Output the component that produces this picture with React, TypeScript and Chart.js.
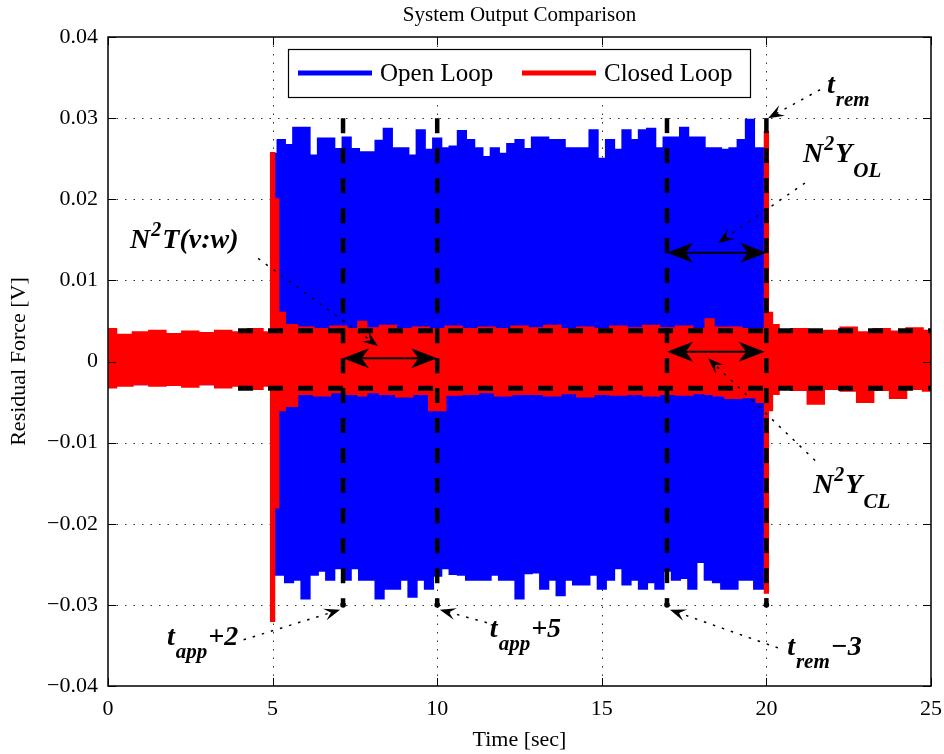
import React, { useEffect, useRef } from 'react';
import { Chart, registerables } from 'chart.js';
Chart.register(...registerables);

const FONT = '"Liberation Serif", "Times New Roman", serif';

// ---- Axis ticks ----
const xTicks = [0, 5, 10, 15, 20, 25];
const xTickLabels = ['0', '5', '10', '15', '20', '25'];
const yTicks = [-0.04, -0.03, -0.02, -0.01, 0, 0.01, 0.02, 0.03, 0.04];
const yTickLabels = ['\u22120.04', '\u22120.03', '\u22120.02', '\u22120.01', '0', '0.01', '0.02', '0.03', '0.04'];

// ---- Open loop (blue) signal envelope ----
const openTime = [0, 2.5, 4.95, 5.05, 5.25, 5.5, 5.75, 6, 6.25, 6.5, 6.75, 7, 7.25, 7.5, 7.75, 8, 8.25, 8.5, 8.75, 9, 9.25, 9.5, 9.75, 10, 10.25, 10.5, 10.75, 11, 11.25, 11.5, 11.75, 12, 12.25, 12.5, 12.75, 13, 13.25, 13.5, 13.75, 14, 14.25, 14.5, 14.75, 15, 15.25, 15.5, 15.75, 16, 16.25, 16.5, 16.75, 17, 17.25, 17.5, 17.75, 18, 18.25, 18.5, 18.75, 19, 19.25, 19.5, 19.75, 19.95, 20.05, 22.5, 25];
const openUpper = [0.0031, 0.0031, 0.0031, 0.0256, 0.0273, 0.0267, 0.0288, 0.0288, 0.0254, 0.0275, 0.0275, 0.0262, 0.0276, 0.0262, 0.0258, 0.0258, 0.0272, 0.0287, 0.0263, 0.0263, 0.0254, 0.0285, 0.0261, 0.0275, 0.0263, 0.0265, 0.0284, 0.0273, 0.0263, 0.0252, 0.0263, 0.0256, 0.0268, 0.0273, 0.0262, 0.0276, 0.0276, 0.0273, 0.0273, 0.0263, 0.0263, 0.0263, 0.0285, 0.0250, 0.0273, 0.0261, 0.0285, 0.0273, 0.0285, 0.0287, 0.0263, 0.0276, 0.0276, 0.0288, 0.0276, 0.0276, 0.0263, 0.0263, 0.0261, 0.0263, 0.0273, 0.0298, 0.0263, 0.0263, 0.0031, 0.0031, 0.0031];
const openLower = [-0.0028, -0.0028, -0.0028, -0.0263, -0.0263, -0.0272, -0.0269, -0.0292, -0.0263, -0.0258, -0.0269, -0.0255, -0.0269, -0.0255, -0.0269, -0.0269, -0.0292, -0.0280, -0.0280, -0.0269, -0.0290, -0.0269, -0.0280, -0.0264, -0.0255, -0.0262, -0.0263, -0.0269, -0.0269, -0.0269, -0.0263, -0.0269, -0.0269, -0.0292, -0.0261, -0.0260, -0.0280, -0.0269, -0.0288, -0.0269, -0.0275, -0.0275, -0.0263, -0.0280, -0.0269, -0.0255, -0.0275, -0.0269, -0.0280, -0.0272, -0.0280, -0.0258, -0.0269, -0.0267, -0.0280, -0.0247, -0.0269, -0.0272, -0.0280, -0.0280, -0.0269, -0.0269, -0.0280, -0.0280, -0.0028, -0.0028, -0.0028];

// ---- Closed loop (red) signal envelope ----
const closedTime = [0, 0.5, 1, 1.5, 2, 2.5, 3, 3.5, 4, 4.5, 4.9, 5.0, 5.1, 5.25, 5.5, 6, 6.5, 7, 7.5, 7.7, 8, 8.5, 9, 9.5, 10, 10.5, 11, 11.5, 12, 12.5, 13, 13.5, 14, 14.5, 15, 15.5, 16, 16.5, 17, 17.5, 18, 18.3, 18.5, 19, 19.5, 19.9, 20.0, 20.1, 20.25, 20.5, 21, 21.5, 22, 22.5, 23, 23.5, 24, 24.5, 25];
const closedUpper = [0.0040, 0.0033, 0.0036, 0.0038, 0.0034, 0.0037, 0.0035, 0.0038, 0.0036, 0.0040, 0.0036, 0.0257, 0.0200, 0.0060, 0.0045, 0.0042, 0.0040, 0.0043, 0.0040, 0.0049, 0.0041, 0.0044, 0.0040, 0.0042, 0.0040, 0.0043, 0.0040, 0.0042, 0.0040, 0.0043, 0.0041, 0.0044, 0.0040, 0.0042, 0.0040, 0.0043, 0.0041, 0.0044, 0.0041, 0.0043, 0.0040, 0.0052, 0.0042, 0.0042, 0.0040, 0.0040, 0.0283, 0.0060, 0.0045, 0.0036, 0.0040, 0.0035, 0.0038, 0.0042, 0.0036, 0.0040, 0.0037, 0.0041, 0.0038];
const closedLower = [-0.0032, -0.0030, -0.0028, -0.0030, -0.0029, -0.0031, -0.0028, -0.0032, -0.0030, -0.0034, -0.0030, -0.0320, -0.0180, -0.0060, -0.0055, -0.0040, -0.0042, -0.0038, -0.0040, -0.0042, -0.0038, -0.0040, -0.0043, -0.0040, -0.0060, -0.0041, -0.0040, -0.0038, -0.0042, -0.0040, -0.0040, -0.0042, -0.0039, -0.0043, -0.0040, -0.0041, -0.0040, -0.0042, -0.0040, -0.0041, -0.0039, -0.0040, -0.0042, -0.0045, -0.0044, -0.0050, -0.0285, -0.0060, -0.0040, -0.0034, -0.0035, -0.0052, -0.0034, -0.0036, -0.0050, -0.0035, -0.0045, -0.0034, -0.0036];

// ---- Annotation geometry (data units) ----
const markerTimes = [7.14, 10, 16.98, 20];
const markerSpan = [-0.03, 0.03];
const bandLevels = [0.0038, -0.0033];
const bandSpan = [3.95, 25];
const doubleArrowX1 = [7.14, 16.98, 16.98];
const doubleArrowX2 = [10, 20, 19.95];
const doubleArrowY = [0.0004, 0.0134, 0.0012];

const BIG = 28;
const SMALL = 21;
type Part = { text: string; size: number; dy?: number };
const sub = (text: string): Part => ({ text, size: SMALL, dy: 13 });
const sup = (text: string): Part => ({ text, size: SMALL - 1, dy: -12 });
const big = (text: string): Part => ({ text, size: BIG });

const noteParts: Part[][] = [
  [big('t'), sub('rem')],
  [big('N'), sup('2'), big('Y'), { text: 'OL', size: SMALL, dy: 15 }],
  [big('N'), sup('2'), big('T(v:w)')],
  [big('N'), sup('2'), big('Y'), { text: 'CL', size: SMALL, dy: 15 }],
  [big('t'), sub('app'), big('+2')],
  [big('t'), sub('app'), big('+5')],
  [big('t'), sub('rem'), big('\u22123')],
];
const noteTextAt = [[21.84, 0.0331], [21.11, 0.0246], [0.67, 0.0140], [21.42, -0.0162], [1.79, -0.0349], [11.6, -0.034], [20.63, -0.0362]];
const noteLineFrom = [[21.63, 0.0335], [21.17, 0.0220], [4.56, 0.0127], [21.48, -0.0122], [4.12, -0.0343], [11.51, -0.0322], [20.35, -0.0353]];
const noteLineTo = [[20.05, 0.0300], [18.53, 0.0146], [8.2, 0.0019], [18.23, 0.0004], [7.05, -0.0306], [10.08, -0.0306], [17.07, -0.0306]];

const legendNames = ['Open Loop', 'Closed Loop'];
const legendColors = ['#0000ff', '#ff0000'];

const pts = (ts: number[], vs: number[]) => ts.map((t, i) => ({ x: t, y: vs[i] }));

function drawRich(ctx: CanvasRenderingContext2D, x: number, y: number, parts: Part[]) {
  let cx = x;
  ctx.textAlign = 'left';
  ctx.textBaseline = 'alphabetic';
  for (const p of parts) {
    ctx.font = `italic bold ${p.size}px ${FONT}`;
    ctx.fillText(p.text, cx, y + (p.dy || 0));
    cx += ctx.measureText(p.text).width + 1;
  }
}

function arrowHead(ctx: CanvasRenderingContext2D, tx: number, ty: number, ang: number, L: number, W: number, notch: number) {
  const c = Math.cos(ang), s = Math.sin(ang);
  const P = (a: number, b: number) => [tx - a * c + b * s, ty - a * s - b * c];
  const p1 = P(L, W), p2 = P(L * notch, 0), p3 = P(L, -W);
  ctx.beginPath();
  ctx.moveTo(tx, ty);
  ctx.lineTo(p1[0], p1[1]);
  ctx.lineTo(p2[0], p2[1]);
  ctx.lineTo(p3[0], p3[1]);
  ctx.closePath();
  ctx.fill();
}

const overlay = {
  id: 'overlay',
  beforeDatasetsDraw(chart: any) {
    const { ctx, chartArea: ca } = chart;
    const xs = chart.scales.x, ys = chart.scales.y;
    ctx.save();
    ctx.strokeStyle = '#333';
    ctx.lineWidth = 1;
    ctx.setLineDash([1.5, 7]);
    xTicks.forEach((v) => {
      const px = Math.round(xs.getPixelForValue(v)) + 0.5;
      if (px <= ca.left + 1 || px >= ca.right - 1) return;
      ctx.beginPath(); ctx.moveTo(px, ca.top); ctx.lineTo(px, ca.bottom); ctx.stroke();
    });
    yTicks.forEach((v) => {
      const py = Math.round(ys.getPixelForValue(v)) + 0.5;
      if (py <= ca.top + 1 || py >= ca.bottom - 1) return;
      ctx.beginPath(); ctx.moveTo(ca.left, py); ctx.lineTo(ca.right, py); ctx.stroke();
    });
    ctx.restore();
  },
  afterDatasetsDraw(chart: any) {
    const { ctx, chartArea: ca } = chart;
    const xs = chart.scales.x, ys = chart.scales.y;
    const X = (v: number) => xs.getPixelForValue(v);
    const Y = (v: number) => ys.getPixelForValue(v);
    ctx.save();
    ctx.fillStyle = '#000';
    ctx.strokeStyle = '#000';

    // dashed horizontal band lines
    ctx.lineWidth = 5;
    ctx.setLineDash([15, 15]);
    bandLevels.forEach((lv) => {
      ctx.beginPath(); ctx.moveTo(X(bandSpan[0]), Y(lv)); ctx.lineTo(X(bandSpan[1]), Y(lv)); ctx.stroke();
    });
    // dashed vertical marker lines
    ctx.lineWidth = 4.5;
    markerTimes.forEach((t) => {
      ctx.beginPath(); ctx.moveTo(X(t), Y(markerSpan[1])); ctx.lineTo(X(t), Y(markerSpan[0])); ctx.stroke();
    });
    ctx.setLineDash([]);
    markerTimes.forEach((t) => {
      ctx.beginPath(); ctx.arc(X(t), Y(markerSpan[0]), 2.8, 0, Math.PI * 2); ctx.fill();
    });

    // double arrows
    ctx.lineWidth = 2;
    doubleArrowY.forEach((yv, i) => {
      const x1 = X(doubleArrowX1[i]), x2 = X(doubleArrowX2[i]), py = Y(yv);
      ctx.beginPath(); ctx.moveTo(x1 + 15, py); ctx.lineTo(x2 - 15, py); ctx.stroke();
      arrowHead(ctx, x1, py, Math.PI, 26, 10, 0.72);
      arrowHead(ctx, x2, py, 0, 26, 10, 0.72);
    });

    // text arrows (dotted)
    noteLineFrom.forEach((f, i) => {
      const to = noteLineTo[i];
      const x1 = X(f[0]), y1 = Y(f[1]), x2 = X(to[0]), y2 = Y(to[1]);
      const ang = Math.atan2(y2 - y1, x2 - x1);
      ctx.lineWidth = 1.5;
      ctx.setLineDash([2.5, 7]);
      ctx.beginPath(); ctx.moveTo(x1, y1); ctx.lineTo(x2 - 8 * Math.cos(ang), y2 - 8 * Math.sin(ang)); ctx.stroke();
      ctx.setLineDash([]);
      arrowHead(ctx, x2, y2, ang, 16, 6, 0.6);
    });

    // annotation texts
    noteParts.forEach((parts, i) => {
      drawRich(ctx, X(noteTextAt[i][0]), Y(noteTextAt[i][1]), parts);
    });

    // axes box and inward ticks
    ctx.setLineDash([]);
    ctx.lineWidth = 1.5;
    ctx.strokeRect(ca.left, ca.top, ca.right - ca.left, ca.bottom - ca.top);
    ctx.lineWidth = 1;
    const tl = 8;
    xTicks.forEach((v) => {
      const px = Math.round(X(v)) + 0.5;
      ctx.beginPath();
      ctx.moveTo(px, ca.bottom); ctx.lineTo(px, ca.bottom - tl);
      ctx.moveTo(px, ca.top); ctx.lineTo(px, ca.top + tl);
      ctx.stroke();
    });
    yTicks.forEach((v) => {
      const py = Math.round(Y(v)) + 0.5;
      ctx.beginPath();
      ctx.moveTo(ca.left, py); ctx.lineTo(ca.left + tl, py);
      ctx.moveTo(ca.right, py); ctx.lineTo(ca.right - tl, py);
      ctx.stroke();
    });

    // legend
    const lx = ca.left + 180, ly = ca.top + 12, lw = 462, lh = 48;
    ctx.fillStyle = '#fff';
    ctx.fillRect(lx, ly, lw, lh);
    ctx.lineWidth = 1.2;
    ctx.strokeStyle = '#000';
    ctx.strokeRect(lx + 0.5, ly + 0.5, lw, lh);
    const itemX = [lx + 10, lx + 234];
    legendNames.forEach((name, i) => {
      const my = ly + lh / 2;
      ctx.strokeStyle = legendColors[i];
      ctx.lineWidth = 5;
      ctx.beginPath(); ctx.moveTo(itemX[i], my); ctx.lineTo(itemX[i] + 74, my); ctx.stroke();
      ctx.fillStyle = '#000';
      ctx.font = `25px ${FONT}`;
      ctx.textAlign = 'left';
      ctx.textBaseline = 'middle';
      ctx.fillText(name, itemX[i] + 82, my + 1);
    });

    // title
    ctx.fillStyle = '#000';
    ctx.font = `21px ${FONT}`;
    ctx.textAlign = 'center';
    ctx.textBaseline = 'middle';
    ctx.fillText('System Output Comparison', (ca.left + ca.right) / 2, 15);
    ctx.restore();
  },
};

export default function App() {
  const ref = useRef<HTMLCanvasElement>(null);
  useEffect(() => {
    const canvas = ref.current!;
    const common = { pointRadius: 0, stepped: 'middle' as const, tension: 0 };
    const chart = new Chart(canvas, {
      type: 'line',
      data: {
        datasets: [
          { label: 'Closed Loop', data: pts(closedTime, closedUpper), borderColor: '#ff0000', backgroundColor: '#ff0000', borderWidth: 2, fill: '+1', order: 0, ...common },
          { label: 'Closed Loop (min)', data: pts(closedTime, closedLower), borderColor: '#ff0000', backgroundColor: '#ff0000', borderWidth: 2, fill: false, order: 0, ...common },
          { label: 'Open Loop', data: pts(openTime, openUpper), borderColor: '#0000ff', backgroundColor: '#0000ff', borderWidth: 2, fill: '+1', order: 1, ...common },
          { label: 'Open Loop (min)', data: pts(openTime, openLower), borderColor: '#0000ff', backgroundColor: '#0000ff', borderWidth: 2, fill: false, order: 1, ...common },
        ],
      },
      options: {
        animation: false,
        responsive: false,
        maintainAspectRatio: false,
        events: [],
        layout: { padding: { top: 37, right: 13, left: 0, bottom: 0 } },
        plugins: {
          legend: { display: false },
          title: { display: false },
          tooltip: { enabled: false },
        },
        scales: {
          x: {
            type: 'linear',
            min: 0,
            max: 25,
            grid: { display: false },
            border: { display: false },
            afterBuildTicks: (s: any) => { s.ticks = xTicks.map((v) => ({ value: v })); },
            afterFit: (s: any) => { s.height = 68; },
            ticks: {
              autoSkip: false,
              maxRotation: 0,
              padding: 2,
              color: '#000',
              font: { family: FONT, size: 22 },
              callback: (v: any) => xTickLabels[xTicks.indexOf(Number(v))],
            },
            title: { display: true, text: 'Time [sec]', color: '#000', font: { family: FONT, size: 22 }, padding: { top: 0, bottom: 1 } },
          },
          y: {
            type: 'linear',
            min: -0.04,
            max: 0.04,
            grid: { display: false },
            border: { display: false },
            afterBuildTicks: (s: any) => { s.ticks = yTicks.map((v) => ({ value: v })); },
            afterFit: (s: any) => { s.width = 108; },
            ticks: {
              autoSkip: false,
              padding: 2,
              color: '#000',
              font: { family: FONT, size: 22 },
              callback: (v: any) => {
                const i = yTicks.findIndex((t) => Math.abs(t - Number(v)) < 1e-9);
                return i >= 0 ? yTickLabels[i] : '';
              },
            },
            title: { display: true, text: 'Residual Force [V]', color: '#000', font: { family: FONT, size: 22 }, padding: { top: 6, bottom: 0 } },
          },
        },
      },
      plugins: [overlay],
    });
    return () => chart.destroy();
  }, []);
  return (
    <div style={{ position: 'absolute', left: 0, top: 0, width: 944, height: 754, background: '#fff' }}>
      <canvas ref={ref} width={944} height={754} style={{ width: 944, height: 754, display: 'block' }} />
    </div>
  );
}
